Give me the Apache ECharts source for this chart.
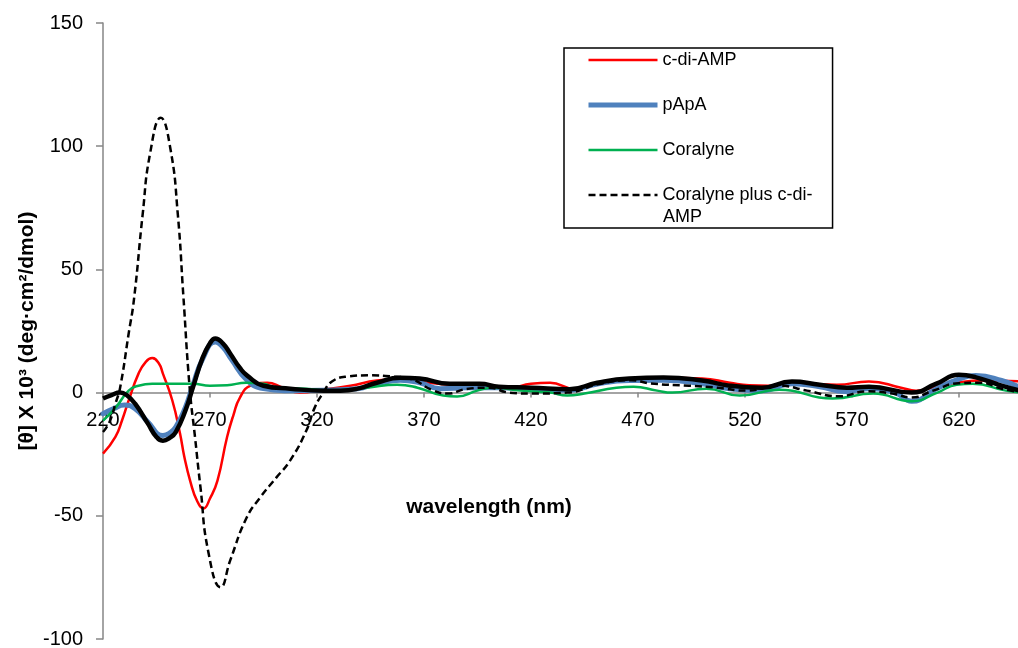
<!DOCTYPE html>
<html>
<head>
<meta charset="utf-8">
<script src="https://cdn.jsdelivr.net/npm/echarts@6/dist/echarts.min.js"></script>
<style>
html,body{margin:0;padding:0;background:#fff;}
#chart{width:1018px;height:648px;}
</style>
</head>
<body>
<div id="chart"></div>
<script>
// ---- data (wavelength in nm, [θ] x 10^3) ----
const seriesNames = ['c-di-AMP', 'pApA', 'Coralyne', 'Coralyne plus c-di-AMP', ''];

const cdiAmpWl  = [220, 225.8, 229, 232, 236.6, 240, 243, 246, 248, 252.4, 256, 258, 260.8, 264, 267, 270, 273.5, 278, 281, 284, 289, 296.8, 304, 312, 323, 335.6, 348, 360, 372, 385, 400, 410, 420, 429, 440, 452, 466, 482, 500, 513, 522, 531, 547, 563, 578, 593, 600, 609, 619, 631, 650];
const cdiAmpVal = [-24.8, -18, -11, -3.2, 7.7, 12.5, 14, 12, 7.7, -3.2, -16.6, -26, -36, -44, -47, -43, -35.7, -18, -9, -2, 2.8, 4, 2, 0, 1.2, 2.8, 4.9, 5.5, 4, 3, 2.4, 2, 3.6, 4, 1.6, 4, 5.5, 6, 5.7, 4, 3, 2.8, 3.6, 3.2, 4.5, 2, 0.8, 2.4, 4, 4.9, 4.5];

const papaWl  = [220, 225, 230, 235, 241, 248, 251, 254, 258.5, 262, 266.5, 272.5, 276, 280, 287.4, 295, 305, 323, 339, 348, 359, 368, 377.6, 390, 405, 420, 438, 451, 466, 482, 500, 513, 528, 542, 555, 567, 578, 590, 598, 609.5, 620, 628, 640, 650];
const papaVal = [-8.6, -6.5, -5, -6.5, -12, -17.4, -16.5, -14, -6, 3, 13.5, 20.5, 18.5, 13.5, 5, 1.6, 0.8, 1, 1.6, 3.6, 5, 4, 1.6, 2, 2, 1.6, 1, 3.5, 4.9, 5, 3.6, 1.6, 0.8, 3.6, 2.4, 0.4, 1.6, 0, -3.5, 1.6, 5.5, 6.9, 4.9, 1.5];

const coralyneWl  = [220, 226, 232, 236.6, 243, 255, 262, 270, 278, 287, 295, 301, 315, 326, 343, 357.5, 367, 379, 385.5, 395, 402.5, 415, 429, 437, 445, 460, 468, 479, 486, 502, 517.6, 536, 561, 580, 598, 610, 619, 626.5, 642, 650];
const coralyneVal = [-11.4, -6, 0.8, 2.8, 3.6, 3.6, 3.6, 2.8, 3, 4, 3.6, 2, 1.6, 0.8, 2, 3.2, 2, -1.2, -1.6, 0.8, 2, 0.8, 0, -1.2, -0.4, 2, 2.4, 0.8, 0, 1.6, -1.2, 1.2, -2.4, -0.4, -3.5, 0, 3.2, 3.6, 0.8, 0];

const plusWl  = [220, 223, 226, 228, 232, 234.5, 238.5, 242, 247, 251.5, 255, 257.5, 260.5, 263, 265.5, 269.3, 275, 279.5, 287, 293.5, 301, 307.5, 315, 319, 323, 327, 334, 344, 356, 364, 374, 381, 390, 400, 410, 421, 437, 452, 467, 476, 494, 507, 521, 536, 549, 564, 577, 589, 598, 608, 620, 630, 640, 650];
const plusVal = [-16, -12, -4, 2, 24, 38, 72, 97, 111.5, 99, 72, 40, 2, -18, -38, -65, -79, -68, -51, -42.5, -34.5, -27.5, -15.5, -6, 0, 4.5, 6.5, 7, 6.5, 5.5, 1, -0.4, 1.5, 2, 0, -0.4, 0, 3.5, 5, 3.7, 2.8, 2, 0.8, 2.8, 0.8, -1.5, 0.5, -0.4, -2, 0.8, 3.8, 4, 1.6, 0];

const blackWl  = [220, 224, 228, 231, 235, 241, 245, 248, 251, 254, 258.5, 262, 266.5, 270, 272.5, 276, 279.5, 284, 287.4, 295, 307.5, 323, 331, 339, 348, 359, 368, 382, 396, 405, 420, 438, 451, 466, 482, 500, 513, 528, 542, 555, 567.6, 578, 598, 609.5, 620, 628, 640, 650];
const blackVal = [-2.4, -1, 0, -1, -4.5, -12.6, -18, -19.5, -18.5, -16, -7.3, 2, 14, 20, 22, 20, 15.8, 10, 6.9, 2.8, 1.6, 0.8, 0.8, 1.6, 4, 6, 5.7, 3.6, 3.6, 2.4, 2, 1.4, 4, 5.7, 6.1, 4.9, 2.8, 2, 4.5, 3.2, 2, 2.4, 0, 3.6, 7.2, 6.2, 2.8, 0.5];

const xTicks = [220, 650, 50];   // min, max, interval
const yTicks = [-100, 150, 50];  // min, max, interval

const zip = (xs, ys) => xs.map((x, i) => [x, ys[i]]);
const FONT = '"Liberation Sans", Arial, sans-serif';

const GRID = {left: 103, top: 23, bottom: 9, right: -5};
const gridHeight = 648 - GRID.top - GRID.bottom;
// distance from the bottom of the grid up to y = 0 (x axis crosses there)
const zeroOffset = gridHeight * (0 - yTicks[0]) / (yTicks[1] - yTicks[0]);

const chart = echarts.init(document.getElementById('chart'), null, {renderer: 'canvas'});

const legendFormatter = n => n === 'Coralyne plus c-di-AMP' ? 'Coralyne plus c-di-' : n;

chart.setOption({
  animation: false,
  backgroundColor: '#fff',
  grid: Object.assign({containLabel: false, outerBoundsMode: 'none'}, GRID),
  xAxis: {
    type: 'value', min: xTicks[0], max: xTicks[1], interval: xTicks[2],
    position: 'bottom', offset: -zeroOffset,
    axisLine: {onZero: false, lineStyle: {color: '#868686', width: 1.5}},
    axisTick: {show: true, inside: false, length: 5, lineStyle: {color: '#868686', width: 1.5}},
    axisLabel: {color: '#000', fontSize: 20, fontFamily: FONT, margin: 18, showMaxLabel: false},
    splitLine: {show: false}
  },
  yAxis: {
    type: 'value', min: yTicks[0], max: yTicks[1], interval: yTicks[2],
    axisLine: {show: true, lineStyle: {color: '#868686', width: 1.5}},
    axisTick: {show: true, inside: false, length: 7, lineStyle: {color: '#868686', width: 1.5}},
    axisLabel: {color: '#000', fontSize: 20, fontFamily: FONT, margin: 20},
    splitLine: {show: false}
  },
  legend: {
    orient: 'vertical', left: 564, top: 48,
    padding: [1, 20, 22, 22],
    itemWidth: 69, itemHeight: 14, itemGap: 23,
    borderColor: '#000', borderWidth: 1.5,
    selectedMode: false,
    formatter: legendFormatter,
    itemStyle: {color: 'rgba(0,0,0,0)', borderWidth: 0, opacity: 0},
    lineStyle: {width: 2.5},
    textStyle: {fontSize: 18, fontFamily: FONT, color: '#000', lineHeight: 22},
    data: [
      'c-di-AMP',
      {name: 'pApA', lineStyle: {width: 5, cap: 'butt'}},
      'Coralyne',
      'Coralyne plus c-di-AMP'
    ]
  },
  graphic: [
    {
      type: 'text', x: 27, y: 331, rotation: Math.PI / 2,
      style: {text: '[θ] X 10³ (deg·cm²/dmol)', font: 'bold 21px ' + FONT, fill: '#000', align: 'center', verticalAlign: 'middle'}
    },
    {
      type: 'text', x: 489, y: 507,
      style: {text: 'wavelength (nm)', font: 'bold 21px ' + FONT, fill: '#000', align: 'center', verticalAlign: 'middle'}
    },
    {
      // second line of the wrapped legend label "Coralyne plus c-di-AMP"
      type: 'text', x: 663, y: 217,
      style: {text: 'AMP', font: '18px ' + FONT, fill: '#000', align: 'left', verticalAlign: 'middle'}
    }
  ],
  series: [
    {name: seriesNames[0], type: 'line', data: zip(cdiAmpWl, cdiAmpVal), smooth: 0.5, symbol: 'none',
     lineStyle: {color: '#FF0000', width: 2.5}, itemStyle: {color: '#FF0000'}},
    {name: seriesNames[1], type: 'line', data: zip(papaWl, papaVal), smooth: 0.5, symbol: 'none',
     lineStyle: {color: '#4F81BD', width: 5, cap: 'round'}, itemStyle: {color: '#4F81BD'}},
    {name: seriesNames[2], type: 'line', data: zip(coralyneWl, coralyneVal), smooth: 0.5, symbol: 'none',
     lineStyle: {color: '#00B050', width: 2.5}, itemStyle: {color: '#00B050'}},
    {name: seriesNames[3], type: 'line', data: zip(plusWl, plusVal), smooth: 0.5, symbol: 'none',
     lineStyle: {color: '#000', width: 2.5, type: [7, 4]}, itemStyle: {color: '#000'}},
    {name: seriesNames[4], type: 'line', data: zip(blackWl, blackVal), smooth: 0.5, symbol: 'none',
     lineStyle: {color: '#000', width: 4.5}, itemStyle: {color: '#000'}}
  ]
});
</script>
</body>
</html>
